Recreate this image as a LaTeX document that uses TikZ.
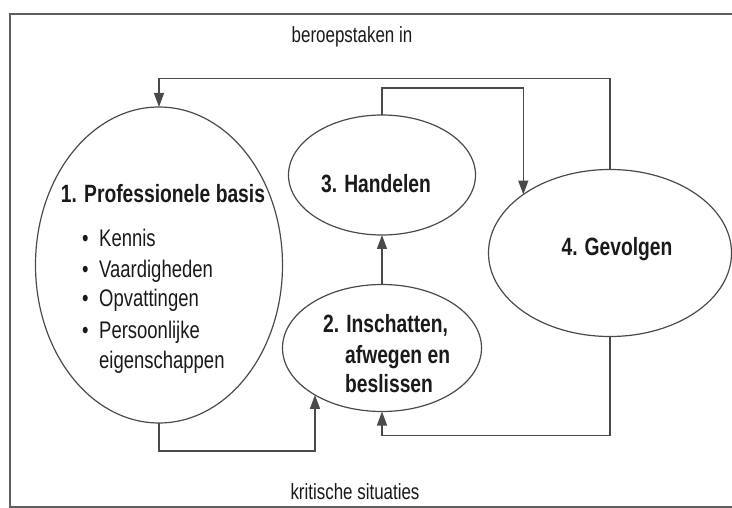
\documentclass[tikz,border=0pt]{standalone}
\usepackage{fontspec}
\setmainfont{Liberation Sans}[FakeStretch=0.77]
\usetikzlibrary{arrows.meta,shapes.geometric}
\definecolor{linec}{HTML}{4A4A4A}
\definecolor{framec}{HTML}{5E5E5E}
\definecolor{textc}{HTML}{1A1A1A}
\begin{document}
\begin{tikzpicture}[x=1pt,y=-1pt,
  ln/.style={draw=linec, line width=1.4pt},
  arr/.style={ln, -{Triangle[length=14pt,width=10pt]}},
  ell/.style={ellipse, draw=linec, line width=1.2pt, inner sep=0pt, outer sep=0pt},
  lbl/.style={font=\fontsize{25}{30}\selectfont\bfseries, text=textc, inner sep=0pt},
  itm/.style={font=\fontsize{24}{29}\selectfont, text=textc, inner sep=0pt, anchor=base west},
  captxt/.style={font=\fontsize{22}{26}\selectfont, text=textc, inner sep=0pt, anchor=base}]
\useasboundingbox (0,0) rectangle (732,508);
\draw[draw=framec, line width=1.6pt] (732,14) -- (10,14) -- (10,507) -- (732,507);

\node[captxt] (top) at (352,43) {beroepstaken in};
\node[captxt] (bot) at (355,499) {kritische situaties};

\node[ell, minimum width=247, minimum height=316] (e1) at (159,265) {};
\node[ell, minimum width=187, minimum height=120] (e3) at (382,175) {};
\node[ell, minimum width=199, minimum height=127] (e2) at (382,348) {};
\node[ell, minimum width=243, minimum height=167] (e4) at (610,253) {};

\node[lbl, anchor=base] (t1) at (163,203) {1. Professionele basis};
\node[itm] (b1) at (82,247) {\textbullet};
\node[itm] (k1) at (99,247) {Kennis};
\node[itm] (b2) at (82,277) {\textbullet};
\node[itm] (k2) at (99,277) {Vaardigheden};
\node[itm] (b3) at (82,307) {\textbullet};
\node[itm] (k3) at (99,307) {Opvattingen};
\node[itm] (b4) at (82,338) {\textbullet};
\node[itm] (k4) at (99,338) {Persoonlijke};
\node[itm] (k5) at (99,368) {eigenschappen};

\node[lbl, anchor=base west] (t2a) at (323,332) {2. Inschatten,};
\node[lbl, anchor=base west] (t2b) at (345,363) {afwegen en};
\node[lbl, anchor=base west] (t2c) at (345,392) {beslissen};

\node[lbl, anchor=base] (t3) at (376,193) {3. Handelen};
\node[lbl, anchor=base] (t4) at (617,256) {4. Gevolgen};

\draw[arr] (e2.north) -- (e3.south);
\draw[arr] (e3.north) -- ++(0,-27) -| (e4.146);
\draw[arr] (e4.north) -- ++(0,-91) -| (e1.north);
\draw[arr] (e1.south) -- ++(0,28) -| (e2.215);
\draw[arr] (e4.south) -- ++(0,99) -| (e2.south);
\end{tikzpicture}
\end{document}
